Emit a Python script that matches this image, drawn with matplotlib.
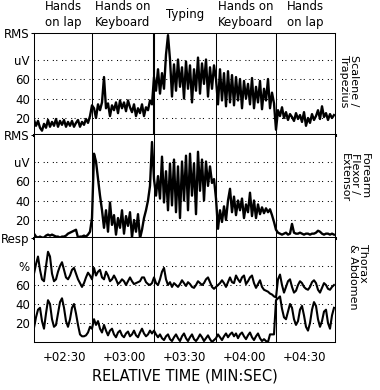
import matplotlib
matplotlib.use('Agg')
import matplotlib.pyplot as plt
import numpy as np

plt.rcParams['font.family'] = ['DejaVu Sans']
plt.rcParams['lines.scale_dashes'] = False

# ---------------- data (1 sample per second, t = 135 s .. 285 s) ----------------
time_s = np.arange(135, 286)

scalene = [18, 12, 17, 10, 7, 14, 10, 18, 11, 16, 12, 19, 11, 17, 13, 18, 11, 16, 12, 17,
           11, 15, 18, 11, 16, 13, 19, 15, 22,
           33, 30, 20, 34, 28, 36, 62, 30, 35, 22, 33, 28, 36, 25, 38, 30, 36, 27, 38, 31,
           26, 34, 22, 30, 25, 34, 22, 31, 28, 38, 34,
           62, 48, 70, 45, 66, 50, 85, 105, 80, 42, 75, 48, 80, 52, 72, 40, 78, 50, 74, 36,
           70, 48, 82, 45, 76, 55, 80, 42, 72, 50, 74,
           60, 34, 70, 38, 66, 32, 68, 36, 64, 33, 62, 38, 60, 30, 58, 40, 55, 34, 61, 30,
           52, 36, 58, 29, 50, 38, 60, 30, 46, 35,
           8, 28, 22, 31, 20, 26, 18, 24, 21, 17, 25, 19, 23, 16, 26, 12, 20, 15, 24, 18,
           22, 28, 19, 32, 21, 25, 18, 24, 20, 23]

forearm = [6, 3, 2, 3, 2, 2, 4, 5, 4, 5, 4, 3, 3, 2, 3, 3, 4, 6, 7, 8, 9, 10, 2, 3, 3, 4, 3, 5, 8,
           22, 88, 80, 62, 45, 30, 12, 30, 8, 38, 15, 25, 5, 22, 12, 30, 6, 24, 14, 28,
           2, 20, 8, 26, 1, 10, 22, 30, 40, 55, 100,
           62, 45, 65, 42, 85, 38, 70, 30, 78, 35, 82, 28, 75, 22, 80, 40, 86, 30, 88, 45,
           78, 26, 90, 50, 82, 40, 80, 55, 75, 58, 62,
           42, 11, 30, 18, 34, 20, 40, 52, 28, 44, 25, 40, 30, 42, 22, 36, 28, 48, 24, 40,
           22, 36, 26, 33, 27, 32, 28, 31, 25, 18,
           10, 7, 6, 5, 6, 7, 5, 6, 16, 7, 6, 6, 7, 6, 5, 6, 6, 5, 6, 6,
           7, 9, 8, 6, 5, 6, 6, 5, 6, 5]

thorax = [72, 82, 90, 76, 66, 64, 80, 95, 90, 72, 64, 66, 74, 80, 84, 76, 68, 66, 70, 76,
          78, 72, 66, 62, 58, 62, 68, 73, 70, 66,
          78, 70, 74, 76, 68, 66, 74, 70, 64, 66, 70, 66, 61, 63, 66, 64, 60, 64, 68, 64,
          61, 62, 63, 64, 68, 68, 63, 61, 60, 62,
          68, 62, 60, 66, 74, 78, 66, 60, 63, 58, 62, 60, 58, 61, 65, 62, 59, 63, 61, 58,
          57, 60, 64, 62, 60, 62, 66, 68, 63, 58, 56,
          58, 60, 62, 65, 62, 58, 63, 68, 63, 62, 70, 66, 63, 68, 70, 61, 64, 68, 70, 62,
          57, 61, 65, 58, 55, 54, 53, 51, 50, 48, 47,
          66, 71, 60, 52, 58, 64, 66, 58, 52, 54, 60, 64, 62, 58, 56, 55, 58, 63, 65, 62,
          55, 52, 57, 62, 60, 56, 55, 58, 60]

abdomen = [15, 26, 34, 36, 22, 14, 30, 44, 40, 24, 16, 18, 30, 42, 46, 36, 22, 16, 24, 36,
           40, 30, 18, 8, 6, 6, 7, 10, 16, 14,
           24, 18, 22, 14, 10, 18, 12, 7, 12, 14, 8, 5, 10, 12, 7, 5, 9, 11, 6, 8,
           12, 7, 5, 10, 14, 9, 6, 8, 12, 9,
           12, 8, 5, 8, 4, 2, 6, 8, 3, 1, 5, 8, 4, 1, 6, 9, 4, 1, 5, 8,
           3, 1, 4, 8, 5, 1, 4, 7, 3, 0, 2,
           4, 8, 5, 2, 6, 9, 5, 8, 10, 6, 9, 4, 8, 10, 6, 3, 7, 10, 5, 2,
           6, 9, 4, 1, 3, 1, 0, 8, 8, 8, 44,
           46, 48, 35, 26, 24, 32, 40, 36, 24, 18, 22, 34, 38, 28, 16, 12, 20, 34, 42, 38,
           24, 16, 22, 32, 34, 20, 14, 28, 36]

event_times = [164, 195, 226, 256]
phase_labels = ["Hands\non lap", "Hands on\nKeyboard", "Typing", "Hands on\nKeyboard", "Hands\non lap"]
tick_times = [150, 180, 210, 240, 270]
tick_labels = ["+02:30", "+03:00", "+03:30", "+04:00", "+04:30"]
grid_values = [20, 40, 60, 80]
panel_tick_labels = [["20", "40", "60", "uV"], ["20", "40", "60", "uV"], ["20", "40", "60", "%"]]
panel_top_labels = ["RMS", "RMS", "Resp"]
channel_names = ["Scalene /\nTrapezius", "Forearm\nFlexor /\nExtensor", "Thorax\n& Abdomen"]

# ---------------- figure ----------------
W, H = 380, 390
fig = plt.figure(figsize=(W / 100, H / 100), dpi=100)


def frame(x0, y0, x1, y1):
    return [x0 / W, 1 - y1 / H, (x1 - x0) / W, (y1 - y0) / H]


ax1 = fig.add_axes(frame(34, 33, 335, 135))
ax2 = fig.add_axes(frame(34, 135, 335, 238))
ax3 = fig.add_axes(frame(34, 238, 335, 342))
axes = [ax1, ax2, ax3]
ylims = [(2.56, 107.2), (1.54, 107.2), (0, 109.5)]
series = [[scalene], [forearm], [thorax, abdomen]]
trace_lw = [1.7, 1.7, 1.5]

for i, ax in enumerate(axes):
    ax.set_xlim(135, 285.5)
    ax.set_ylim(*ylims[i])
    ax.set_facecolor('white')
    for g in grid_values:
        ax.axhline(g, color='black', lw=0.75, dashes=(0.75, 1.7, 0.75, 3.4), zorder=1)
    for j, t in enumerate(event_times):
        lw = 1.5 if (i == 0 and j == 1) else 0.75
        ax.axvline(t, color='black', lw=lw, zorder=2)
    for s in series[i]:
        ax.plot(time_s, s, color='black', lw=trace_lw[i], zorder=3)
    ax.set_yticks(grid_values)
    ax.set_yticklabels(panel_tick_labels[i])
    ax.tick_params(axis='y', which='major', length=0, pad=3.0, labelsize=8.5)
    ax.set_yticks([ylims[i][1]], minor=True)
    ax.set_yticklabels([panel_top_labels[i]], minor=True)
    ax.tick_params(axis='y', which='minor', length=2.2, width=0.75, pad=0.8, labelsize=8.5)
    for sp in ['left', 'right', 'top', 'bottom']:
        ax.spines[sp].set_linewidth(0.75)
    if i > 0:
        ax.spines['top'].set_visible(False)
    if i < 2:
        ax.spines['bottom'].set_linewidth(2.2)
        ax.set_xticks([])

ax3.set_xticks(tick_times)
ax3.set_xticklabels(tick_labels)
ax3.tick_params(axis='x', length=0, pad=6.5, labelsize=8.5)

# phase labels above the top panel
bounds = [135] + event_times + [285.5]
for k, lab in enumerate(phase_labels):
    mid = (bounds[k] + bounds[k + 1]) / 2
    ax1.text(mid, (135 - 14.5) / 102, lab, transform=ax1.get_xaxis_transform(),
             ha='center', va='center', fontsize=8.5, linespacing=1.3)

# channel names on the right (rotated)
name_pos = [(349, 55), (355, 153), (358, 244)]
for name, (px, py) in zip(channel_names, name_pos):
    fig.text(px / W, 1 - py / H, name, rotation=-90, ha='center', va='top',
             multialignment='left', fontsize=8, linespacing=1.0)

fig.text(184.5 / W, 1 - 376 / H, 'RELATIVE TIME (MIN:SEC)', ha='center', va='center',
         fontsize=10.5)

fig.savefig('out.png', dpi=100, facecolor='white')
